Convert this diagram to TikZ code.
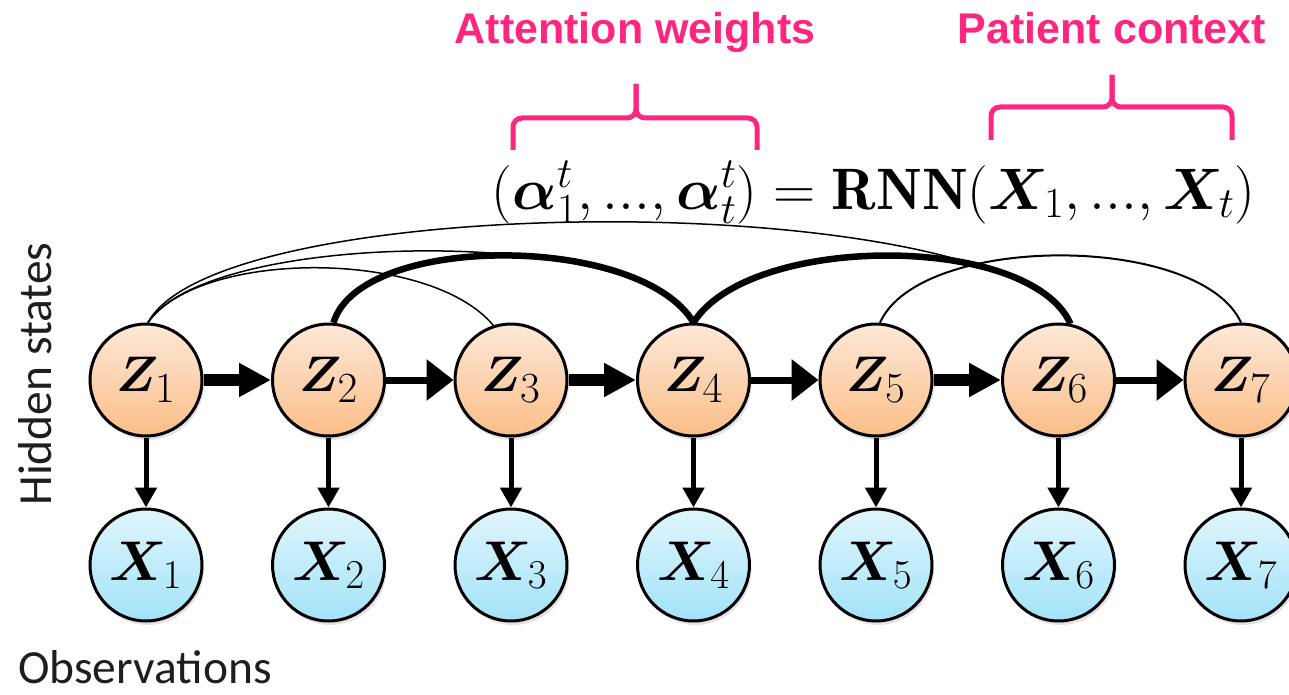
\RequirePackage{fix-cm}
\documentclass[tikz,border=0pt]{standalone}
\usepackage{fontspec}
\usepackage{amsmath}
\usepackage{bm}
\usetikzlibrary{arrows.meta,shadows}
\newfontfamily\labelfont{Liberation Sans}
\newfontfamily\calfont{Carlito}
\definecolor{hotpink}{RGB}{255,38,128}
\definecolor{zTop}{RGB}{253,232,216}
\definecolor{zBot}{RGB}{251,190,136}
\definecolor{xTop}{RGB}{224,245,252}
\definecolor{xBot}{RGB}{162,227,248}
\definecolor{textgray}{RGB}{30,30,30}
\DeclareMathSizes{50}{50}{43}{30}
\DeclareMathSizes{56}{56}{41}{30}
\DeclareMathSizes{58.5}{58.5}{43}{30}
\begin{document}
\begin{tikzpicture}[x=1pt,y=-1pt,
  zn/.style={circle, draw=black, line width=3pt, minimum size=112pt, inner sep=0pt,
    top color=zTop, bottom color=zBot,
    drop shadow={opacity=0.22, shadow xshift=2pt, shadow yshift=-4pt},
    font=\fontsize{50}{60}\selectfont},
  xn/.style={circle, draw=black, line width=3pt, minimum size=112pt, inner sep=0pt,
    top color=xTop, bottom color=xBot,
    drop shadow={opacity=0.22, shadow xshift=2pt, shadow yshift=-4pt},
    font=\fontsize{56}{64}\selectfont},
  thickarr/.style={line width=12pt, -{Triangle[length=32pt,width=32pt]}},
  thinarr/.style={line width=7pt, -{Triangle[length=27pt,width=40pt]}},
  downarr/.style={line width=5pt, -{Triangle[length=20pt,width=21pt]}},
  faint/.style={line width=1.5pt},
  link/.style={line width=2pt},
  heavy/.style={line width=6.5pt},
  brace/.style={draw=hotpink, line width=5pt, rounded corners=9pt},
  pinklabel/.style={text=hotpink, anchor=base, inner sep=0pt,
    font=\labelfont\bfseries\fontsize{43}{50}\selectfont},
  sidelabel/.style={text=textgray, inner sep=0pt, font=\calfont\fontsize{47.5}{56}\selectfont}
]
\useasboundingbox (0,0) rectangle (1289,695);
\clip (0,0) rectangle (1289,695);

% hidden states
\foreach \i/\x in {1/146,2/328.5,3/511,4/693.5,5/876,6/1058.5,7/1241}{
  \node[zn] (Z\i) at (\x,380) {$\bm{Z}_{\i}$};
  \node[xn] (X\i) at (\x,565) {$\bm{X}_{\i}$};
  \draw[downarr] (Z\i) -- (X\i);
}

% chain arrows
\draw[thickarr] (Z1) -- (Z2);
\draw[thinarr]  (Z2) -- (Z3);
\draw[thickarr] (Z3) -- (Z4);
\draw[thinarr]  (Z4) -- (Z5);
\draw[thickarr] (Z5) -- (Z6);
\draw[thinarr]  (Z6) -- (Z7);

% attention arcs
\draw[faint] (Z1.88) .. controls (200,249) and (430,249) .. (Z3.108);
\draw[faint] (Z1.88) .. controls (210,227) and (650,227) .. (Z4.north);
\draw[faint] (Z1.88) .. controls (220,188) and (1000,188) .. (Z6.78);
\draw[heavy] (Z2.85) .. controls (360,233) and (640,233) .. (Z4.north);
\draw[heavy] (Z4.north) .. controls (750,233) and (1030,233) .. (Z6.78);
\draw[link] (Z5.86) .. controls (920,233) and (1200,233) .. (Z7.north);

% equation
\node[anchor=base, inner sep=0pt, font=\fontsize{58.5}{66}\selectfont] (eq) at (873.5,209)
  {$(\bm{\alpha}^t_1, ..., \bm{\alpha}^t_t) = \mathbf{RNN}(\bm{X}_1, ..., \bm{X}_t)$};

% braces
\draw[brace] (513,150) |- (636,118) -- (636,84);
\draw[brace] (757,150) |- (636,118) -- (636,84);
\draw[brace] (991,140) |- (1112,107) -- (1112,75);
\draw[brace] (1232,140) |- (1112,107) -- (1112,75);

% labels
\node[pinklabel] (aw) at (635,44) {Attention weights};
\node[pinklabel] (pc) at (1112,44) {Patient context};
\node[sidelabel, rotate=90] (hs) at (35,374) {Hidden states};
\node[sidelabel, anchor=base west] (ob) at (18,683) {Observations};
\end{tikzpicture}
\end{document}
